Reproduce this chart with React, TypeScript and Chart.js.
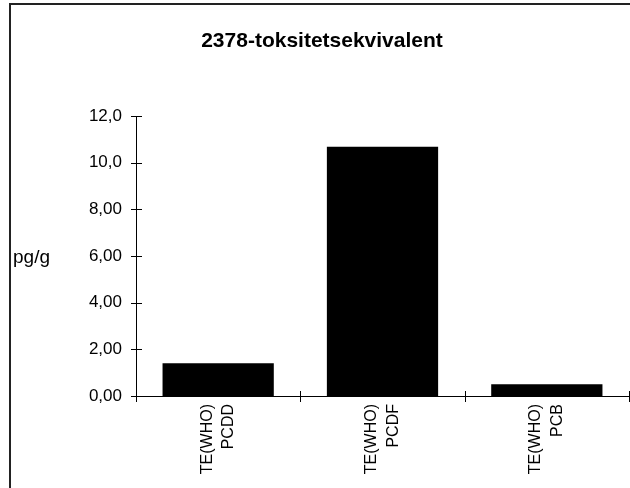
import React, { useEffect, useRef } from "react";
import { Chart, registerables } from "chart.js";

Chart.register(...registerables);

const TITLE = "2378-toksitetsekvivalent";
const Y_UNIT = "pg/g";
const categories: string[][] = [
  ["TE(WHO)", "PCDD"],
  ["TE(WHO)", "PCDF"],
  ["TE(WHO)", "PCB"],
];
const values: number[] = [1.4, 10.68, 0.5];
const yTickValues: number[] = [0, 2, 4, 6, 8, 10, 12];
const yTickLabels: string[] = ["0,00", "2,00", "4,00", "6,00", "8,00", "10,0", "12,0"];

const FONT = "'Liberation Sans', Arial, Helvetica, sans-serif";

const decorPlugin = {
  id: "decor",
  afterDraw(chart: any) {
    const ctx = chart.ctx;
    const area = chart.chartArea;
    const xs = chart.scales.x;
    const ys = chart.scales.y;
    ctx.save();
    // frame (left and top edges visible)
    ctx.strokeStyle = "#222";
    ctx.lineWidth = 2;
    ctx.beginPath();
    ctx.moveTo(10, chart.height);
    ctx.lineTo(10, 4);
    ctx.lineTo(chart.width, 4);
    ctx.stroke();

    // title
    ctx.fillStyle = "#000";
    ctx.font = `bold 21px ${FONT}`;
    ctx.textAlign = "center";
    ctx.textBaseline = "alphabetic";
    ctx.fillText(TITLE, 322, 47);

    // y unit label
    ctx.font = `19px ${FONT}`;
    ctx.textAlign = "left";
    ctx.textBaseline = "middle";
    ctx.fillText(Y_UNIT, 13, (area.top + area.bottom) / 2 + 2);

    // crossing tick marks
    ctx.strokeStyle = "#000";
    ctx.lineWidth = 1;
    ctx.beginPath();
    ys.ticks.forEach((t: any) => {
      const py = Math.round(ys.getPixelForValue(t.value)) + 0.5;
      ctx.moveTo(area.left - 5, py);
      ctx.lineTo(area.left + 6, py);
    });
    const n = categories.length;
    const w = (area.right - area.left) / n;
    for (let i = 0; i <= n; i++) {
      const px = Math.round(xs.getPixelForValue(0) - w / 2 + i * w) + 0.5;
      ctx.moveTo(px, area.bottom - 5);
      ctx.lineTo(px, area.bottom + 6);
    }
    ctx.stroke();
    ctx.restore();
  },
};

export default function App() {
  const ref = useRef<HTMLCanvasElement | null>(null);
  useEffect(() => {
    if (!ref.current) return;
    Chart.defaults.font.family = FONT;
    Chart.defaults.color = "#000";
    const chart = new Chart(ref.current, {
      type: "bar",
      data: {
        labels: categories,
        datasets: [
          {
            data: values,
            backgroundColor: "#000",
            borderWidth: 0,
            barPercentage: 0.677,
            categoryPercentage: 1,
          },
        ],
      },
      options: {
        responsive: false,
        animation: false,
        layout: { padding: { top: 116, right: 1, bottom: 0, left: 0 } },
        plugins: {
          legend: { display: false },
          title: { display: false },
          tooltip: { enabled: false },
        },
        scales: {
          x: {
            grid: { display: false, drawTicks: false },
            border: { display: true, color: "#000", width: 1 },
            ticks: {
              autoSkip: false,
              minRotation: 90,
              maxRotation: 90,
              padding: 8,
              labelOffset: -11,
              color: "#000",
              font: { size: 16, lineHeight: 1.35 },
            },
            afterFit: (s: any) => {
              s.height = 92;
            },
          },
          y: {
            min: 0,
            max: 12,
            grid: { display: false, drawTicks: false },
            border: { display: true, color: "#000", width: 1 },
            afterBuildTicks: (s: any) => {
              s.ticks = yTickValues.map((v) => ({ value: v }));
            },
            ticks: {
              padding: 14,
              color: "#000",
              font: { size: 17 },
              callback: (v: any) => {
                const i = yTickValues.indexOf(Number(v));
                return i >= 0 ? yTickLabels[i] : "";
              },
            },
            afterFit: (s: any) => {
              s.width = 136;
            },
          },
        },
      },
      plugins: [decorPlugin],
    });
    return () => chart.destroy();
  }, []);
  return (
    <div style={{ position: "absolute", left: 0, top: 0, width: 630, height: 488, background: "#fff" }}>
      <canvas ref={ref} width={630} height={488} style={{ display: "block" }} />
    </div>
  );
}
